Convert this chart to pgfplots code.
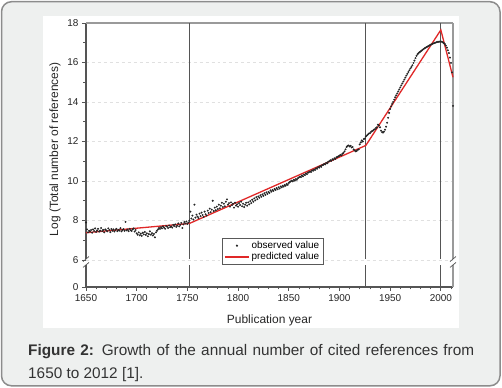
\documentclass[border=0pt]{standalone}
\usepackage{fontspec}
\setmainfont{Liberation Sans}
\usepackage{pgfplots}
\pgfplotsset{compat=1.18}
\definecolor{bgcol}{HTML}{EEF0EF}
\definecolor{bordercol}{HTML}{8C8C8C}
\definecolor{vline}{HTML}{555555}
\definecolor{frame2}{HTML}{9A9A9A}
\definecolor{predred}{HTML}{E02828}
\definecolor{captcol}{HTML}{333333}
\begin{document}
\begin{tikzpicture}
\path (0bp,0bp) rectangle (502bp,388bp);
\fill[bgcol, draw=bordercol, line width=1.5bp, rounded corners=10bp] (1.5bp,2.2bp) rectangle (500bp,386.3bp);
\fill[white] (43bp,60bp) rectangle (459bp,372bp);
\begin{axis}[
  at={(86bp,101bp)}, anchor=south west,
  width=367bp, height=264bp, scale only axis,
  xmin=1650, xmax=2012, ymin=4.633, ymax=18,
  clip=false,
  axis line style={draw=none},
  xtick={1650,1700,...,2000},
  minor xtick={1660,1670,...,2010},
  ytick={4.633,6,8,10,12,14,16,18},
  yticklabels={0,6,8,10,12,14,16,18},
  minor ytick={7,9,11,13,15,17},
  xtick pos=bottom, ytick pos=left, tick align=outside,
  major tick length=4bp, minor tick length=2.5bp,
  tick style={draw=vline, line width=0.7bp},
  /pgf/number format/assume math mode=true,
  /pgf/number format/set thousands separator={},
  tick label style={font=\fontsize{10}{12}\selectfont, text=black!85},
  ymajorgrids=true,
  major grid style={dashed, draw=black!12, line width=0.6bp},
  xlabel={Publication year},
  ylabel={Log (Total number of references)},
  every axis x label/.style={at={(axis description cs:0.5,-0.140)}, anchor=base, font=\fontsize{12}{14}\selectfont, text=black!85},
  every axis y label/.style={at={(axis description cs:-0.0845,0.521)}, rotate=90, anchor=center, font=\fontsize{12}{14}\selectfont, text=black!85},
  legend style={at={(0.3706,0.0833)}, anchor=south west, draw=black!65, line width=0.6bp,
    font=\fontsize{10}{11}\selectfont, inner xsep=2bp, inner ysep=1.5bp, row sep=-1.5bp,
    cells={anchor=west}},
  legend image code/.code={\draw[mark repeat=2,mark phase=2,#1] plot coordinates {(0bp,0bp)(12bp,0bp)(24bp,0bp)};},
]
% frame and reference lines
\draw[vline, line width=1.1bp] (axis cs:1650,4.633) -- (axis cs:2012,4.633);
\draw[vline, line width=1.1bp] (axis cs:1650,4.633) -- (axis cs:1650,5.75);
\draw[vline, line width=1.1bp] (axis cs:1650,6.05) -- (axis cs:1650,18);
\draw[frame2, line width=1.1bp] (axis cs:1650,18) -- (axis cs:2012,18);
\draw[frame2, line width=1.1bp] (axis cs:2012,4.633) -- (axis cs:2012,5.75);
\draw[frame2, line width=1.1bp] (axis cs:2012,6.05) -- (axis cs:2012,18);
\draw[vline, line width=1.1bp] (axis cs:1752,4.633) -- (axis cs:1752,5.75);
\draw[vline, line width=1.1bp] (axis cs:1752,6.05) -- (axis cs:1752,18);
\draw[vline, line width=1.1bp] (axis cs:1926,4.633) -- (axis cs:1926,5.75);
\draw[vline, line width=1.1bp] (axis cs:1926,6.05) -- (axis cs:1926,18);
\draw[vline, line width=1.1bp] (axis cs:2000,4.633) -- (axis cs:2000,5.75);
\draw[vline, line width=1.1bp] (axis cs:2000,6.05) -- (axis cs:2000,18);
\draw[vline, line width=0.7bp] ([xshift=-3bp,yshift=-2.5bp]axis cs:1650,6.05) -- ([xshift=3bp,yshift=2.5bp]axis cs:1650,6.05);
\draw[vline, line width=0.7bp] ([xshift=-3bp,yshift=-2.5bp]axis cs:1650,5.75) -- ([xshift=3bp,yshift=2.5bp]axis cs:1650,5.75);
\draw[vline, line width=0.7bp] ([xshift=-3bp,yshift=-2.5bp]axis cs:2012,6.05) -- ([xshift=3bp,yshift=2.5bp]axis cs:2012,6.05);
\draw[vline, line width=0.7bp] ([xshift=-3bp,yshift=-2.5bp]axis cs:2012,5.75) -- ([xshift=3bp,yshift=2.5bp]axis cs:2012,5.75);
\addplot[only marks, mark=*, mark size=0.75bp, color=black!85] coordinates {
(1650,7.90) (1651,7.55) (1652,7.40) (1653,7.48) (1654,7.45) (1655,7.52) (1656,7.38) (1657,7.55) (1658,7.47) (1659,7.60)
(1660,7.42) (1661,7.50) (1662,7.58) (1663,7.44) (1664,7.49) (1665,7.62) (1666,7.46) (1667,7.53) (1668,7.40) (1669,7.55)
(1670,7.50) (1671,7.45) (1672,7.60) (1673,7.52) (1674,7.41) (1675,7.57) (1676,7.48) (1677,7.55) (1678,7.44) (1679,7.52)
(1680,7.58) (1681,7.46) (1682,7.53) (1683,7.49) (1684,7.61) (1685,7.45) (1686,7.52) (1687,7.56) (1688,7.48) (1689,7.93)
(1690,7.50) (1691,7.54) (1692,7.46) (1693,7.58) (1694,7.51) (1695,7.47) (1696,7.55) (1697,7.60) (1698,7.44) (1699,7.52)
(1700,7.35) (1701,7.28) (1702,7.40) (1703,7.25) (1704,7.33) (1705,7.22) (1706,7.38) (1707,7.30) (1708,7.42) (1709,7.27)
(1710,7.35) (1711,7.20) (1712,7.31) (1713,7.45) (1714,7.28) (1715,7.36) (1716,7.24) (1717,7.32) (1718,7.15) (1719,7.40)
(1720,7.48) (1721,7.55) (1722,7.62) (1723,7.58) (1724,7.66) (1725,7.60) (1726,7.70) (1727,7.64) (1728,7.58) (1729,7.72)
(1730,7.68) (1731,7.62) (1732,7.75) (1733,7.66) (1734,7.70) (1735,7.64) (1736,7.78) (1737,7.72) (1738,7.80) (1739,7.68)
(1740,7.74) (1741,7.85) (1742,7.70) (1743,7.78) (1744,7.88) (1745,7.62) (1746,7.80) (1747,7.92) (1748,7.85) (1749,7.95)
(1750,7.82) (1751,7.90) (1752,8.00) (1753,8.45) (1754,8.10) (1755,8.25) (1756,8.05) (1757,8.80) (1758,8.15) (1759,8.30)
(1760,8.20) (1761,8.12) (1762,8.35) (1763,8.22) (1764,8.40) (1765,8.28) (1766,8.18) (1767,8.45) (1768,8.32) (1769,8.25)
(1770,8.50) (1771,8.38) (1772,8.60) (1773,8.42) (1774,8.55) (1775,9.00) (1776,8.48) (1777,8.65) (1778,8.52) (1779,8.70)
(1780,8.58) (1781,8.80) (1782,8.62) (1783,8.75) (1784,8.90) (1785,8.68) (1786,8.85) (1787,8.72) (1788,8.95) (1789,9.07)
(1790,8.80) (1791,8.88) (1792,8.70) (1793,8.92) (1794,8.78) (1795,8.85) (1796,8.65) (1797,8.90) (1798,8.75) (1799,8.82)
(1800,8.70) (1801,8.88) (1802,8.78) (1803,8.95) (1804,8.72) (1805,8.85) (1806,8.68) (1807,8.80) (1808,8.90) (1809,8.75)
(1810,8.92) (1811,8.82) (1812,8.98) (1813,8.88) (1814,9.05) (1815,8.95) (1816,9.12) (1817,9.02) (1818,9.18) (1819,9.08)
(1820,9.22) (1821,9.15) (1822,9.28) (1823,9.20) (1824,9.32) (1825,9.25) (1826,9.38) (1827,9.30) (1828,9.42) (1829,9.35)
(1830,9.45) (1831,9.40) (1832,9.52) (1833,9.46) (1834,9.55) (1835,9.50) (1836,9.60) (1837,9.55) (1838,9.64) (1839,9.58)
(1840,9.68) (1841,9.62) (1842,9.72) (1843,9.68) (1844,9.76) (1845,9.72) (1846,9.80) (1847,9.76) (1848,9.85) (1849,9.80)
(1850,9.90) (1851,9.95) (1852,9.98) (1853,10.02) (1854,9.98) (1855,10.06) (1856,10.02) (1857,10.10) (1858,10.06) (1859,10.14)
(1860,10.18) (1861,10.22) (1862,10.20) (1863,10.28) (1864,10.24) (1865,10.32) (1866,10.30) (1867,10.38) (1868,10.35) (1869,10.42)
(1870,10.45) (1871,10.48) (1872,10.46) (1873,10.54) (1874,10.52) (1875,10.58) (1876,10.56) (1877,10.64) (1878,10.62) (1879,10.70)
(1880,10.68) (1881,10.75) (1882,10.72) (1883,10.80) (1884,10.82) (1885,10.86) (1886,10.84) (1887,10.92) (1888,10.90) (1889,10.98)
(1890,11.00) (1891,11.05) (1892,11.02) (1893,11.10) (1894,11.08) (1895,11.15) (1896,11.12) (1897,11.20) (1898,11.22) (1899,11.25)
(1900,11.28) (1901,11.32) (1902,11.30) (1903,11.38) (1904,11.42) (1905,11.50) (1906,11.60) (1907,11.72) (1908,11.78) (1909,11.80)
(1910,11.75) (1911,11.78) (1912,11.70) (1913,11.72) (1914,11.60) (1915,11.55) (1916,11.50) (1917,11.52) (1918,11.58) (1919,11.60)
(1920,11.85) (1921,11.95) (1922,12.05) (1923,12.00) (1924,12.12) (1925,12.15) (1926,12.25) (1927,12.30) (1928,12.35) (1929,12.40)
(1930,12.42) (1931,12.48) (1932,12.52) (1933,12.55) (1934,12.60) (1935,12.62) (1936,12.68) (1937,12.72) (1938,12.85) (1939,12.80)
(1940,12.72) (1941,12.55) (1942,12.48) (1943,12.45) (1944,12.50) (1945,12.60) (1946,12.75) (1947,12.95) (1948,13.20) (1949,13.45)
(1950,13.65) (1951,13.78) (1952,13.90) (1953,14.00) (1954,14.12) (1955,14.24) (1956,14.34) (1957,14.44) (1958,14.54) (1959,14.64)
(1960,14.74) (1961,14.84) (1962,14.94) (1963,15.04) (1964,15.14) (1965,15.24) (1966,15.34) (1967,15.43) (1968,15.52) (1969,15.61)
(1970,15.70) (1971,15.78) (1972,15.86) (1973,15.98) (1974,16.10) (1975,16.22) (1976,16.34) (1977,16.42) (1978,16.48) (1979,16.52)
(1980,16.56) (1981,16.60) (1982,16.64) (1983,16.68) (1984,16.72) (1985,16.75) (1986,16.78) (1987,16.81) (1988,16.84) (1989,16.87)
(1990,16.90) (1991,16.92) (1992,16.95) (1993,16.97) (1994,16.99) (1995,17.01) (1996,17.03) (1997,17.04) (1998,17.05) (1999,17.06)
(2000,17.06) (2001,17.05) (2002,17.02) (2003,16.98) (2004,16.93) (2005,16.85) (2006,16.75) (2007,16.62) (2008,16.48) (2009,16.25)
(2010,15.98) (2011,15.50) (2012,13.80)
};
\addlegendentry{observed value}
\addplot[color=predred, draw=predred, line width=1.3bp] coordinates {
(1650,7.38) (1752,7.85) (1926,11.80) (2000,17.65) (2012,15.25)
};
\addlegendentry{predicted value}
\end{axis}
\node[anchor=north west, font=\fontsize{15.4}{22.5}\selectfont, text=captcol, inner sep=0pt, text width=446bp, align=justify] at (28bp,43.5bp) {\textbf{Figure 2:} Growth of the annual number of cited references from 1650 to 2012 [1].};
\end{tikzpicture}
\end{document}
